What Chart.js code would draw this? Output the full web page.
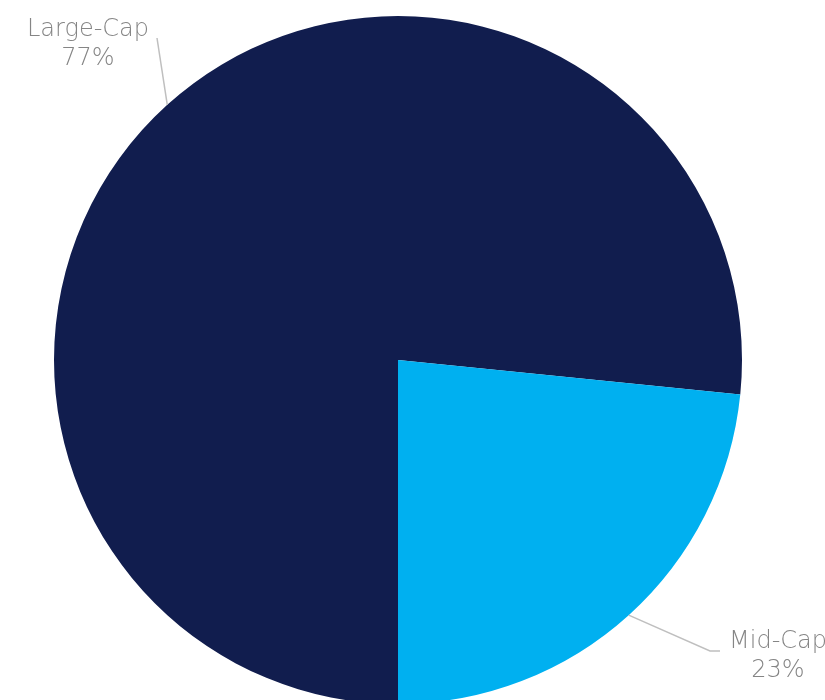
<!DOCTYPE html>
<html>
<head>
<meta charset="utf-8">
<script src="https://cdn.jsdelivr.net/npm/chart.js@4.4.0/dist/chart.umd.min.js"></script>
<style>
  html, body { margin: 0; padding: 0; background: #fff; overflow: hidden; }
  #wrap { position: relative; width: 825px; height: 708px; }
</style>
</head>
<body>
<div id="wrap"><canvas id="capChart"></canvas></div>
<script>
// data
const categories = ["Large-Cap", "Mid-Cap"];
const shares = [76.6, 23.4];
const sliceColors = ["#111d4e", "#00b0f0"];

// leader lines + labels (text position, elbow, font)
const labelPlugin = {
  id: "pieLabels",
  afterDatasetsDraw(chart) {
    const c = chart.ctx;
    const arcs = chart.getDatasetMeta(0).data;
    const spots = [
      { tx: 88, ty: 30, elbow: [157, 38], ex: null },
      { tx: 778, ty: 642, elbow: [710, 651], ex: [720, 651] }
    ];
    c.save();
    arcs.forEach(function (arc, i) {
      const s = spots[i];
      const mid = (arc.startAngle + arc.endAngle) / 2;
      const px = arc.x + Math.cos(mid) * arc.outerRadius;
      const py = arc.y + Math.sin(mid) * arc.outerRadius;
      c.strokeStyle = "#bfbfbf";
      c.lineWidth = 1.5;
      c.beginPath();
      c.moveTo(px, py);
      c.lineTo(s.elbow[0], s.elbow[1]);
      if (s.ex) c.lineTo(s.ex[0], s.ex[1]);
      c.stroke();
      c.fillStyle = "#858585";
      c.font = "200 24px 'DejaVu Sans', sans-serif";
      c.textAlign = "center";
      c.textBaseline = "middle";
      c.fillText(categories[i], s.tx, s.ty);
      c.fillText(Math.round(shares[i]) + "%", s.tx, s.ty + 29);
    });
    c.restore();
  }
};

document.addEventListener("DOMContentLoaded", function () {
  const ctx = document.getElementById("capChart").getContext("2d");
  new Chart(ctx, {
    type: "pie",
    data: {
      labels: categories,
      datasets: [
        {
          data: shares,
          backgroundColor: sliceColors,
          borderWidth: 0
        }
      ]
    },
    options: {
      responsive: true,
      maintainAspectRatio: false,
      animation: false,
      rotation: 180,
      layout: { padding: { left: 54, right: 83, top: 16, bottom: 4 } },
      plugins: {
        legend: { display: false },
        tooltip: { enabled: false }
      }
    },
    plugins: [labelPlugin]
  });
});
</script>
</body>
</html>
